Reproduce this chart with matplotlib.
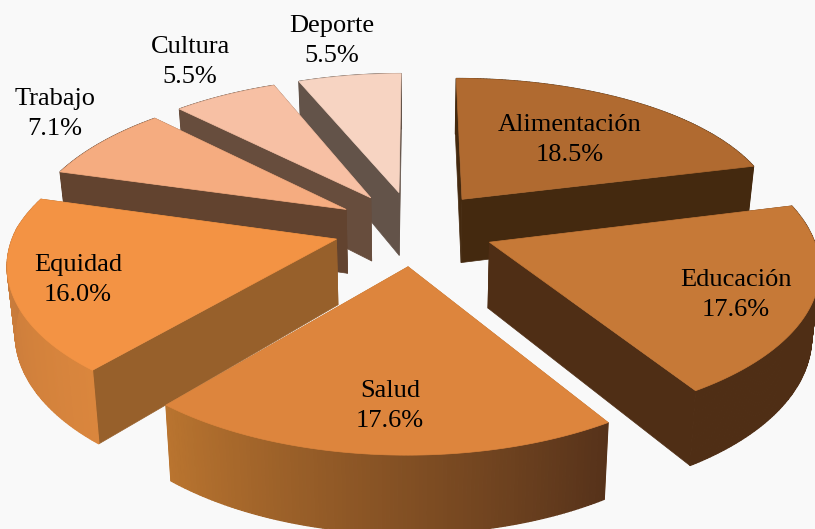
#!/usr/bin/env python3

import matplotlib
matplotlib.use("Agg")
import numpy as np
import matplotlib.pyplot as plt
from matplotlib.colors import to_rgb

names = ["Alimentación", "Educación", "Salud", "Equidad", "Trabajo", "Cultura", "Deporte"]
values = [18.5, 17.6, 17.6, 16.0, 7.1, 5.5, 5.5]

# styles, same order as names
top_colors = ["#B06A30", "#C67937", "#DD853D", "#F39344", "#F5AC80", "#F7C0A4", "#F7D4C2"]
cut_colors = ["#44290F", "#4F2E15", "#B5702F", "#97602B", "#62432F", "#674D3D", "#635349"]
arc_from = ["#44290F", "#4F2E15", "#56321A", "#DA863D", "#62432F", "#674D3D", "#635349"]
arc_to = ["#44290F", "#4F2E15", "#B9742F", "#C0763A", "#62432F", "#674D3D", "#635349"]
label_pos = [(570, 140), (736, 295), (390, 406), (78, 280), (55, 114), (190, 62), (332, 41)]
draw_order = [6, 5, 4, 0, 3, 1, 2]

# camera of the pie, in pixels
CX, CY = 414, 228
A, B, K = 321, 150, 0.14
EXPLODE = 0.25
HEIGHT = 65
SHRINK = 0.98


def project(x, y, bottom=False):
    x = np.asarray(x, dtype=float)
    y = np.asarray(y, dtype=float)
    s = 1 / (1 + K * y)
    back = np.clip(y, 0, None)
    # the far left side sits a bit tighter than plain perspective gives
    sx = A * x * s * np.where(x < 0, 1 - 0.03 * back, 1.0)
    sy = CY - B * y * s + 3 * back ** 2
    if bottom:
        sx = sx * SHRINK
        sy = sy + HEIGHT * s
    return CX + sx, sy


def quad(ax, x0, y0, x1, y1, color, lw=0.5):
    xa, ya = project(x0, y0)
    xb, yb = project(x1, y1)
    xc, yc = project(x1, y1, True)
    xd, yd = project(x0, y0, True)
    ax.fill([xa, xb, xc, xd], [ya, yb, yc, yd], color=color, lw=lw)


def draw_wedge(ax, start, stop, i):
    mid = (start + stop) / 2
    tx = EXPLODE * np.sin(mid)
    ty = EXPLODE * np.cos(mid)
    th = np.linspace(start, stop, 120)
    xs = tx + np.sin(th)
    ys = ty + np.cos(th)

    # back faces first, the top covers what should be hidden
    faces = [(ty + np.cos(start), (tx, ty, xs[0], ys[0])),
             (ty + np.cos(stop), (tx, ty, xs[-1], ys[-1]))]
    for _, f in sorted(faces, key=lambda p: -p[0]):
        quad(ax, *f, cut_colors[i])

    c0 = np.array(to_rgb(arc_from[i]))
    c1 = np.array(to_rgb(arc_to[i]))
    for j in range(len(th) - 1):
        t = j / (len(th) - 2)
        quad(ax, xs[j], ys[j], xs[j + 1], ys[j + 1], tuple(c0 + (c1 - c0) * t), lw=0.9)

    px, py = project(np.r_[tx, xs], np.r_[ty, ys])
    ax.fill(px, py, color=top_colors[i], lw=0.5)


fig = plt.figure(figsize=(8.15, 5.29), dpi=100, facecolor="#F9F9F9")
ax = fig.add_axes([0, 0, 1, 1])
ax.set_xlim(0, 815)
ax.set_ylim(529, 0)
ax.axis("off")

total = sum(values)
edges = np.r_[0, np.cumsum(values)] / total * 2 * np.pi

for i in draw_order:
    draw_wedge(ax, edges[i], edges[i + 1], i)

for i, name in enumerate(names):
    x, y = label_pos[i]
    ax.text(x, y, f"{name}\n{values[i]:.1f}%", ha="center", va="center",
            family="Liberation Serif", fontsize=19, linespacing=1.45, color="black")

fig.savefig("out.png", dpi=100, facecolor=fig.get_facecolor())
